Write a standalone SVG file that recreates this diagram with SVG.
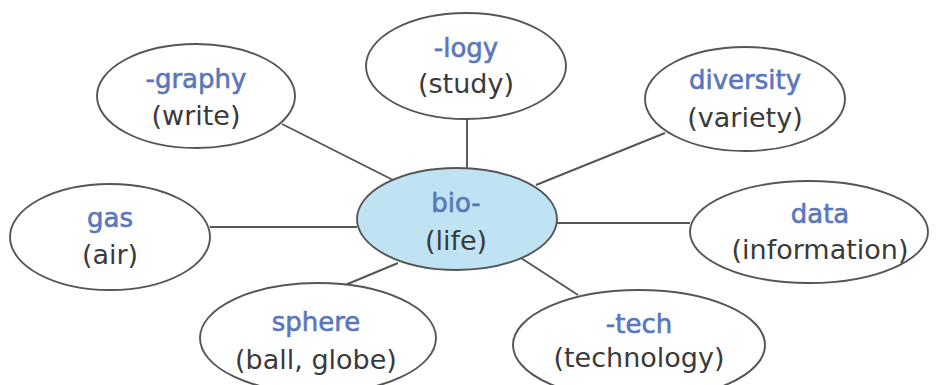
<svg xmlns="http://www.w3.org/2000/svg" width="936" height="385" viewBox="0 0 936 385">
<style>
.node ellipse{fill:#fff;stroke:#555;stroke-width:1.9}
#bio ellipse{fill:#bfe3f2}
.conn line{stroke:#555;stroke-width:1.9}
text{font-family:"DejaVu Sans","Liberation Sans",sans-serif;font-size:27px;text-anchor:middle}
.k{fill:#5a77bb;stroke:#5a77bb;stroke-width:0.6;font-size:26px}
.m{fill:#3a3a3a}
</style>
<rect width="936" height="385" fill="#fff"/>
<g class="conn">
<line x1="282" y1="124" x2="393" y2="180"/>
<line x1="467" y1="118" x2="467" y2="168"/>
<line x1="665" y1="133" x2="536" y2="185"/>
<line x1="210" y1="227" x2="357" y2="227"/>
<line x1="338" y1="288" x2="398" y2="263"/>
<line x1="556" y1="223" x2="690" y2="223"/>
<line x1="521" y1="258" x2="578" y2="295"/>
</g>
<g id="bio" class="node"><ellipse cx="457" cy="219" rx="100" ry="51"/><text x="456" y="212" class="k">bio-</text><text x="456" y="250" class="m">(life)</text></g>
<g id="graphy" class="node"><ellipse cx="196" cy="96" rx="99" ry="52"/><text x="196" y="88" class="k">-graphy</text><text x="196" y="125" class="m">(write)</text></g>
<g id="logy" class="node"><ellipse cx="466" cy="66" rx="100" ry="53"/><text x="466" y="57" class="k">-logy</text><text x="466" y="93" class="m">(study)</text></g>
<g id="diversity" class="node"><ellipse cx="745" cy="99" rx="100" ry="52"/><text x="745" y="89" class="k">diversity</text><text x="745" y="127" class="m">(variety)</text></g>
<g id="gas" class="node"><ellipse cx="110" cy="237" rx="100" ry="53"/><text x="110" y="227" class="k">gas</text><text x="110" y="264" class="m">(air)</text></g>
<g id="data" class="node"><ellipse cx="809" cy="232" rx="119" ry="51"/><text x="820" y="223" class="k">data</text><text x="820" y="259" class="m">(information)</text></g>
<g id="sphere" class="node"><ellipse cx="318" cy="338" rx="118" ry="55"/><text x="316" y="331" class="k">sphere</text><text x="316" y="369" class="m">(ball, globe)</text></g>
<g id="tech" class="node"><ellipse cx="639" cy="345" rx="126" ry="55"/><text x="639" y="333" class="k">-tech</text><text x="639" y="367" class="m">(technology)</text></g>
</svg>
